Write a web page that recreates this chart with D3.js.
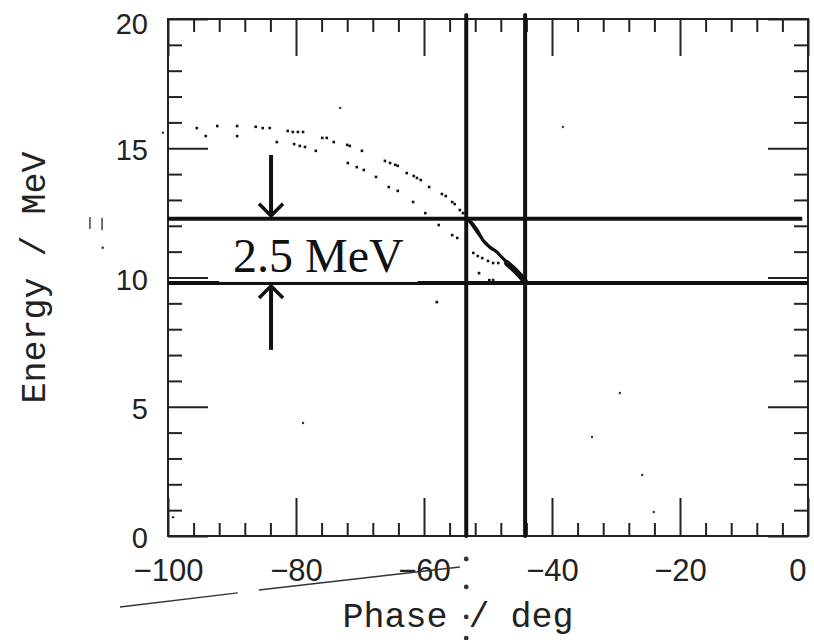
<!DOCTYPE html>
<html>
<head>
<meta charset="utf-8">
<script src="https://cdn.jsdelivr.net/npm/d3@7"></script>
<style>
  html, body { margin: 0; padding: 0; background: #fff; overflow: hidden; }
  svg { display: block; }
  .tick text { font-family: "Liberation Sans", sans-serif; fill: #222; }
  .domain { display: none; }
  .tick line { stroke: #222; stroke-width: 2; }
</style>
</head>
<body>
<div id="chart"></div>
<script>
// Axis ticks
const xMajor = [-100, -80, -60, -40, -20, 0];
const xMinor = d3.range(-96, 0, 4).filter(v => v % 20 !== 0);
const yMajor = [0, 5, 10, 15, 20];
const yMinor = d3.range(1, 20, 1).filter(v => v % 5 !== 0);

// Cut lines (energy window and phase window)
const energyCuts = [12.27, 9.79];
const phaseCuts = [-53.4, -44.2];

// Outer trajectory (upper row of dots)
const outerPhase = [-95.5, -92.3, -89.2, -86.3, -85.2, -84.1, -81.3, -80.5, -79.7, -78.9, -75.9, -75.2, -74.1, -72.0, -71.6, -69.7, -66.1, -65.3, -64.5, -64.1, -62.7, -61.6, -61.1, -60.5, -59.2, -57.2, -56.6, -55.6, -55.2, -54.4, -53.9];
const outerEnergy = [15.78, 15.86, 15.86, 15.83, 15.78, 15.78, 15.67, 15.63, 15.63, 15.63, 15.40, 15.40, 15.24, 15.13, 15.09, 14.90, 14.51, 14.43, 14.36, 14.32, 14.04, 13.93, 13.85, 13.77, 13.50, 13.23, 13.15, 12.92, 12.84, 12.61, 12.49];

// Inner trajectory (lower row of dots)
const innerPhase = [-94.1, -89.2, -83.0, -80.3, -79.4, -78.6, -76.9, -71.9, -70.5, -69.4, -67.5, -65.5, -64.1, -61.7, -59.8, -57.7, -55.6, -54.8, -52.3, -51.6, -50.9, -50.0, -49.2, -48.4, -51.4, -49.8, -49.2, -58.0];
const innerEnergy = [15.47, 15.47, 15.24, 15.16, 15.09, 15.05, 14.90, 14.43, 14.27, 14.16, 13.89, 13.50, 13.35, 12.92, 12.49, 12.03, 11.64, 11.53, 10.95, 10.83, 10.75, 10.64, 10.56, 10.56, 10.17, 9.90, 9.90, 9.05];

// Dense bunch inside the window
const bunchPhase = [-53.4, -52.5, -51.7, -50.8, -49.7, -48.6, -47.7, -46.6, -45.5, -44.7, -44.2];
const bunchEnergy = [12.26, 12.11, 11.84, 11.45, 11.18, 10.99, 10.75, 10.48, 10.25, 10.06, 9.83];
const bunchPhase2 = [-52.9, -51.6, -50.4, -49.5, -48.9, -48.0, -46.9, -45.8, -44.8];
const bunchEnergy2 = [12.16, 11.70, 11.30, 11.10, 11.05, 10.82, 10.55, 10.30, 10.02];
const tailPhase = [-47.0, -45.8, -44.8, -44.2];
const tailEnergy = [10.55, 10.28, 10.02, 9.83];

// Stray specks on the scan
const speckPhase = [-73.1, -38.3, -29.4, -33.75, -25.9, -24.1, -99.2, -78.9, -100.8, -53.4, -53.4, -53.4, -53.4, -110.2];
const speckEnergy = [16.56, 15.82, 5.53, 3.83, 2.36, 0.93, 0.73, 4.37, 15.6, -0.89, -1.97, -3.13, -3.95, 11.15];

// Pen strokes under the axis
const penPhase = [[-107.5, -89.1], [-85.8, -54.4]];
const penEnergy = [[-2.75, -2.2], [-2.09, -1.2]];

// Arrows marking the 2.5 MeV window
const arrowPhase = -83.9;
const arrowFrom = [14.74, 7.2];
const arrowTo = [12.27, 9.79];

const width = 814;
const height = 640;
const margin = { top: 19, right: 6, bottom: 104, left: 168 };
const innerWidth = width - margin.left - margin.right;
const innerHeight = height - margin.top - margin.bottom;

const svg = d3.select("#chart")
  .append("svg")
  .attr("width", width)
  .attr("height", height);

const chart = svg.append("g")
  .attr("transform", `translate(${margin.left}, ${margin.top})`);

const x = d3.scaleLinear().domain([-100, 0]).range([0, innerWidth]);
const y = d3.scaleLinear().domain([0, 20]).range([innerHeight, 0]);

// Tick marks without labels, all four sides
function bareTicks(axis, transform) {
  const g = chart.append("g").attr("transform", transform).call(axis);
  g.selectAll("text").remove();
}
bareTicks(d3.axisBottom(x).tickValues(xMinor).tickSize(-13), `translate(0, ${innerHeight})`);
bareTicks(d3.axisTop(x).tickValues(xMinor).tickSize(-13), null);
bareTicks(d3.axisLeft(y).tickValues(yMinor).tickSize(-14), null);
bareTicks(d3.axisRight(y).tickValues(yMinor).tickSize(-14), `translate(${innerWidth}, 0)`);
bareTicks(d3.axisTop(x).tickValues(xMajor).tickSize(-37), null);
bareTicks(d3.axisRight(y).tickValues(yMajor).tickSize(-40), `translate(${innerWidth}, 0)`);

// Major ticks with labels
const xAxis = chart.append("g").attr("transform", `translate(0, ${innerHeight})`)
  .call(d3.axisBottom(x).tickValues(xMajor).tickSize(-38).tickPadding(23));
xAxis.selectAll("text")
  .style("font-size", "31px")
  .attr("text-anchor", d => d === 0 ? "end" : "middle")
  .attr("dx", d => d === 0 ? "-2px" : "0");
const yAxis = chart.append("g")
  .call(d3.axisLeft(y).tickValues(yMajor).tickSize(-40).tickPadding(20));
yAxis.selectAll("text").style("font-size", "29px")
  .attr("dy", d => d === 20 ? "0.5em" : "0.4em");

// Frame
chart.append("rect")
  .attr("width", innerWidth)
  .attr("height", innerHeight)
  .attr("fill", "none")
  .attr("stroke", "#222")
  .attr("stroke-width", 2);

// Dots of the two trajectories
const dotData = outerPhase.map((p, i) => ({ p, e: outerEnergy[i] }))
  .concat(innerPhase.map((p, i) => ({ p, e: innerEnergy[i] })));
chart.selectAll(".dot")
  .data(dotData)
  .enter()
  .append("rect")
  .attr("class", "dot")
  .attr("x", d => x(d.p) - 1.3)
  .attr("y", d => y(d.e) - 1.3)
  .attr("width", 2.6)
  .attr("height", 2.6)
  .attr("fill", "#111");

// Specks
chart.selectAll(".speck")
  .data(speckPhase.map((p, i) => ({ p, e: speckEnergy[i] })))
  .enter()
  .append("circle")
  .attr("cx", d => x(d.p))
  .attr("cy", d => y(d.e))
  .attr("r", (d, i) => i >= 9 && i <= 12 ? 2.4 : 1.2)
  .attr("fill", "#333");

// Dense bunch
const line = d3.line().x(d => x(d[0])).y(d => y(d[1]));
chart.append("path")
  .attr("d", line(bunchPhase.map((p, i) => [p, bunchEnergy[i]])))
  .attr("fill", "none")
  .attr("stroke", "#111")
  .attr("stroke-width", 3);
chart.append("path")
  .attr("d", line(bunchPhase2.map((p, i) => [p, bunchEnergy2[i]])))
  .attr("fill", "none")
  .attr("stroke", "#111")
  .attr("stroke-width", 2.2);
chart.append("path")
  .attr("d", line(tailPhase.map((p, i) => [p, tailEnergy[i]])))
  .attr("fill", "none")
  .attr("stroke", "#111")
  .attr("stroke-width", 6)
  .attr("stroke-linecap", "round");

// Pen strokes
penPhase.forEach((ps, i) => {
  chart.append("path")
    .attr("d", line(ps.map((p, j) => [p, penEnergy[i][j]])))
    .attr("stroke", "#333")
    .attr("stroke-width", 1.5);
});

// Scan marks next to the y title
chart.append("path")
  .attr("d", `M${x(-112.2)},${y(12.34)}V${y(11.88)}M${x(-110.3)},${y(12.30)}V${y(11.84)}`)
  .attr("stroke", "#444")
  .attr("stroke-width", 1.5);

// Window lines
chart.selectAll(".ecut")
  .data(energyCuts)
  .enter()
  .append("line")
  .attr("x1", 0)
  .attr("x2", (d, i) => i === 0 ? x(-0.9) : innerWidth)
  .attr("y1", d => y(d))
  .attr("y2", d => y(d))
  .attr("stroke", "#111")
  .attr("stroke-width", 4);
chart.selectAll(".pcut")
  .data(phaseCuts)
  .enter()
  .append("line")
  .attr("x1", d => x(d))
  .attr("x2", d => x(d))
  .attr("y1", y(20.15))
  .attr("y2", innerHeight)
  .attr("stroke", "#111")
  .attr("stroke-width", 4)
  .attr("stroke-linecap", "round");

// Label box and text
chart.append("rect")
  .attr("x", x(-92))
  .attr("y", y(12.27) + 3)
  .attr("width", x(-61) - x(-92))
  .attr("height", y(9.79) - y(12.27) - 4)
  .attr("fill", "#fff");
chart.append("text")
  .attr("x", (x(-92) + x(-61)) / 2)
  .attr("y", y(9.79) - 11)
  .attr("text-anchor", "middle")
  .attr("font-family", "'Liberation Serif', 'Times New Roman', serif")
  .attr("font-size", 48)
  .attr("fill", "#111")
  .text("2.5 MeV");

// Arrows
arrowFrom.forEach((from, i) => {
  const tip = y(arrowTo[i]) + (i === 0 ? -3 : 3);
  const dir = i === 0 ? -1 : 1;
  const ax = x(arrowPhase);
  chart.append("line")
    .attr("x1", ax).attr("x2", ax)
    .attr("y1", y(from)).attr("y2", tip)
    .attr("stroke", "#111").attr("stroke-width", 4);
  chart.append("path")
    .attr("d", `M${ax - 12},${tip + dir * 12}L${ax},${tip}L${ax + 12},${tip + dir * 12}`)
    .attr("fill", "none")
    .attr("stroke", "#111")
    .attr("stroke-width", 3.5);
});

// Axis titles
svg.append("text")
  .attr("x", 458)
  .attr("y", 627)
  .attr("text-anchor", "middle")
  .attr("font-family", "'Liberation Mono', monospace")
  .attr("font-size", 35)
  .attr("fill", "#222")
  .text("Phase / deg");

svg.append("text")
  .attr("transform", `translate(45, ${margin.top + innerHeight / 2}) rotate(-90)`)
  .attr("text-anchor", "middle")
  .attr("font-family", "'Liberation Mono', monospace")
  .attr("font-size", 35)
  .attr("fill", "#222")
  .text("Energy / MeV");
</script>
</body>
</html>
